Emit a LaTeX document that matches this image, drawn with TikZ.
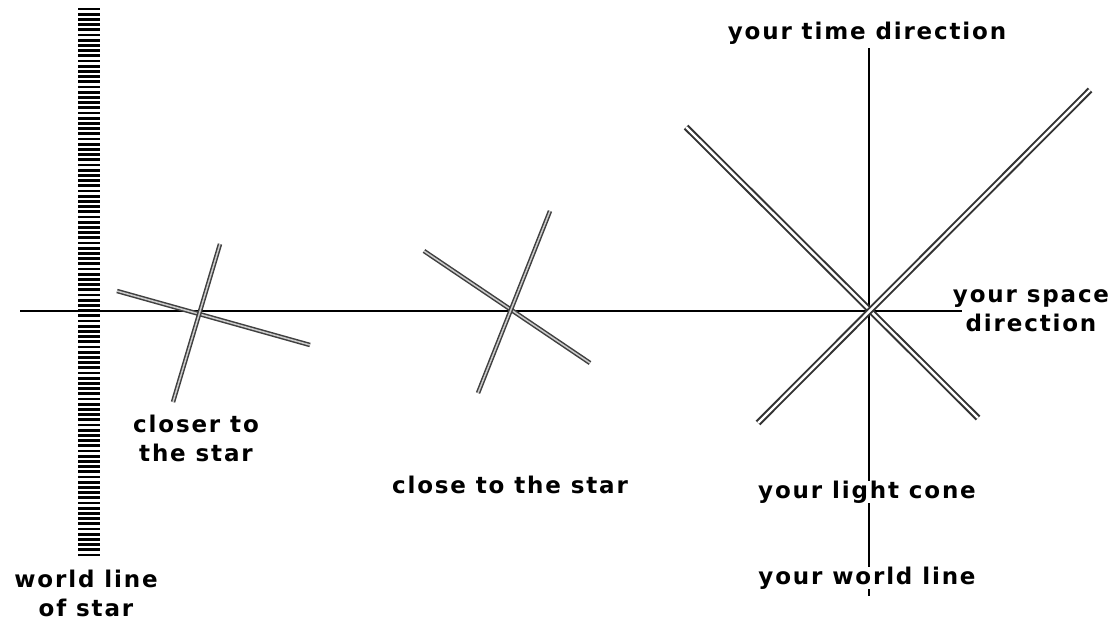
\documentclass[tikz,border=0pt]{standalone}
\usepackage{fontspec}
\setmainfont{DejaVu Sans}
\begin{document}
\begin{tikzpicture}[x=1pt,y=-1pt,
  axis/.style={line width=2.6pt,draw=black},
  cone/.style={draw=black!80,line width=2pt,double=white,double distance=2.4pt},
  tilt/.style={draw=black!75,line width=1.5pt,double=black!20,double distance=1.5pt},
  stripe/.style={line width=2.8pt,draw=black},
  lbl/.style={font=\bfseries\fontsize{23}{29}\selectfont\addfontfeature{LetterSpace=8},inner sep=0pt,align=center}]
\useasboundingbox (0,0) rectangle (1113,621);
% world line of star (hatched band)
\foreach \yy in {9,14.2,...,556} \draw[stripe] (78,\yy) -- (100,\yy);
% horizontal axis
\coordinate (hL) at (20,311);
\coordinate (hR) at (962,311);
\draw[axis] (hL) -- (hR);
% your world line / time direction
\coordinate (o) at (869,311);
\coordinate (vT) at (869,48);
\coordinate (vB) at (869,596);
\draw[axis] (vT) -- (vB);
% light cone
\coordinate (c1a) at (686,127);
\coordinate (c1b) at (978,418);
\coordinate (c2a) at (758,423);
\coordinate (c2b) at (1090,90);
\draw[cone] (c1a) -- (c1b);
\draw[cone] (c2a) -- (c2b);
% close to the star
\coordinate (m1a) at (424,251);
\coordinate (m1b) at (590,363);
\coordinate (m2a) at (478,393);
\coordinate (m2b) at (550,211);
\draw[tilt] (m1a) -- (m1b);
\draw[tilt] (m2a) -- (m2b);
% closer to the star
\coordinate (k1a) at (117,291);
\coordinate (k1b) at (310,345);
\coordinate (k2a) at (173,402);
\coordinate (k2b) at (220,244);
\draw[tilt] (k1a) -- (k1b);
\draw[tilt] (k2a) -- (k2b);
% labels
\node[lbl] (timelbl) at (867,33) {your time direction};
\node[lbl] (spacelbl) at (1031,311) {your space\\direction};
\node[lbl,fill=white] (lightlbl) at (867,492) {your light cone};
\node[lbl,fill=white] (worldlbl) at (867,578) {your world line};
\node[lbl] (closelbl) at (510,485) {close to the star};
\node[lbl] (closerlbl) at (196,438) {closer to\\the star};
\node[lbl] (starlbl) at (86,593) {world line\\of star};
\end{tikzpicture}
\end{document}
